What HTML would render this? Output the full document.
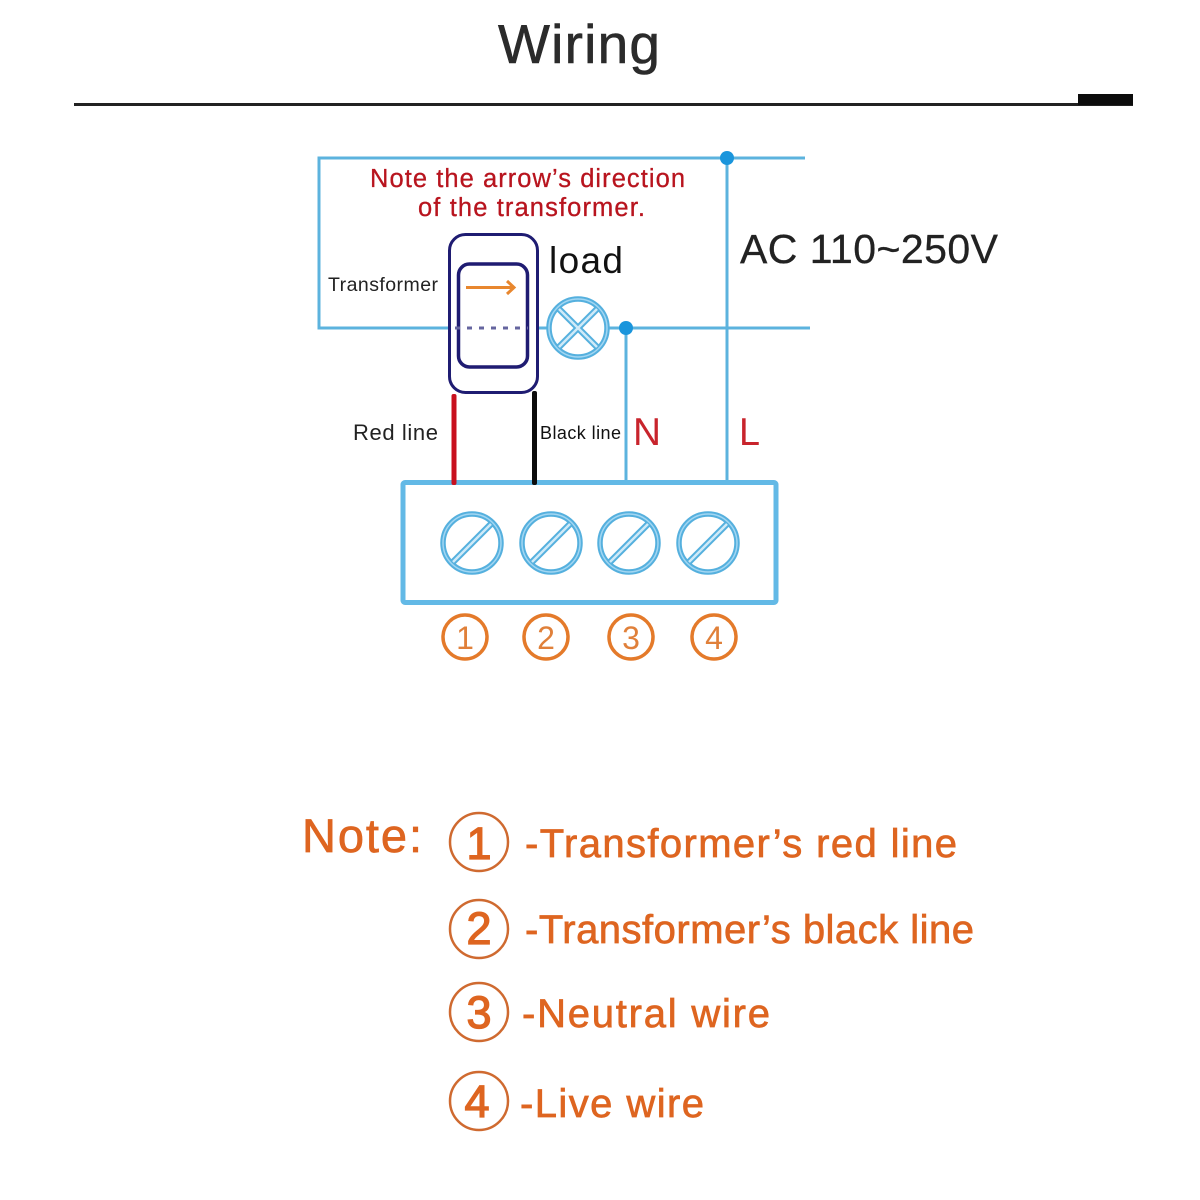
<!DOCTYPE html>
<html><head><meta charset="utf-8"><style>
html,body{margin:0;padding:0;background:#fff}
svg{display:block}
text{font-family:"Liberation Sans",sans-serif}
</style></head><body>
<svg width="1200" height="1200" viewBox="0 0 1200 1200" xmlns="http://www.w3.org/2000/svg">
<rect width="1200" height="1200" fill="#fff"/>
<text x="498" y="63" font-size="55" fill="#2b2b2b" stroke="#2b2b2b" stroke-width=".6" textLength="162" lengthAdjust="spacing">Wiring</text>
<rect x="74" y="103" width="1059" height="3" fill="#222"/>
<rect x="1078" y="94" width="55" height="11" fill="#0c0c0c"/>

<g fill="none" stroke="#5cb3de" stroke-width="3">
<path d="M805 158H319V328H448"/>
<path d="M727 158V482"/>
<path d="M538 328H548"/>
<path d="M608 328H810"/>
<path d="M626 328V482"/>
<rect x="403" y="482.5" width="373" height="120" rx="2" stroke="#63b9e6" stroke-width="5"/>
</g>
<circle cx="727" cy="158" r="7" fill="#1a95dc"/>
<circle cx="626" cy="328" r="7" fill="#1a95dc"/>

<g fill="none">
<circle cx="578" cy="328" r="29" stroke="#55b0de" stroke-width="5.5"/>
<circle cx="578" cy="328" r="29" stroke="#a2d6f2" stroke-width="1.5"/>
<path d="M559 309L597 347M597 309L559 347" stroke="#55b0de" stroke-width="6.5"/>
<path d="M559 309L597 347M597 309L559 347" stroke="#cfeaf8" stroke-width="2.5"/>
</g>

<rect x="449.5" y="234.5" width="88" height="158" rx="16" fill="none" stroke="#1f1c72" stroke-width="3"/>
<rect x="458.5" y="264" width="69" height="103" rx="11" fill="none" stroke="#1f1c72" stroke-width="3.5"/>
<path d="M455 328H528" stroke="#65659f" stroke-width="3" stroke-dasharray="5 7" fill="none"/>
<path d="M466 287.5H513" stroke="#e8872e" stroke-width="3" fill="none"/>
<path d="M507 281L514 287.5L507 294" stroke="#e8872e" stroke-width="3" fill="none"/>
<rect x="451.5" y="394" width="5" height="91" rx="2" fill="#c8101e"/>
<rect x="532" y="391" width="5" height="94" rx="2" fill="#0c0c0c"/>

<g fill="none">
<g>
<circle cx="472" cy="543" r="29" stroke="#55b0de" stroke-width="5.5"/><circle cx="472" cy="543" r="29" stroke="#a2d6f2" stroke-width="1.5"/>
<path d="M453 562L491 524" stroke="#55b0de" stroke-width="6.5"/><path d="M453 562L491 524" stroke="#cfeaf8" stroke-width="2.5"/>
</g>
<g transform="translate(79 0)">
<circle cx="472" cy="543" r="29" stroke="#55b0de" stroke-width="5.5"/><circle cx="472" cy="543" r="29" stroke="#a2d6f2" stroke-width="1.5"/>
<path d="M453 562L491 524" stroke="#55b0de" stroke-width="6.5"/><path d="M453 562L491 524" stroke="#cfeaf8" stroke-width="2.5"/>
</g>
<g transform="translate(157 0)">
<circle cx="472" cy="543" r="29" stroke="#55b0de" stroke-width="5.5"/><circle cx="472" cy="543" r="29" stroke="#a2d6f2" stroke-width="1.5"/>
<path d="M453 562L491 524" stroke="#55b0de" stroke-width="6.5"/><path d="M453 562L491 524" stroke="#cfeaf8" stroke-width="2.5"/>
</g>
<g transform="translate(236 0)">
<circle cx="472" cy="543" r="29" stroke="#55b0de" stroke-width="5.5"/><circle cx="472" cy="543" r="29" stroke="#a2d6f2" stroke-width="1.5"/>
<path d="M453 562L491 524" stroke="#55b0de" stroke-width="6.5"/><path d="M453 562L491 524" stroke="#cfeaf8" stroke-width="2.5"/>
</g>
</g>

<g fill="none" stroke="#e47a2a" stroke-width="3.5">
<circle cx="465" cy="637" r="22"/><circle cx="546" cy="637" r="22"/><circle cx="631" cy="637" r="22"/><circle cx="714" cy="637" r="22"/>
</g>
<g font-size="32" fill="#e0803a" text-anchor="middle">
<text x="465" y="649">1</text><text x="546" y="649">2</text><text x="631" y="649">3</text><text x="714" y="649">4</text>
</g>

<g font-size="25.5" fill="#b8141e" stroke="#b8141e" stroke-width=".3">
<text x="370" y="187" textLength="315" lengthAdjust="spacing">Note the arrow’s direction</text>
<text x="418" y="216" textLength="227" lengthAdjust="spacing">of the transformer.</text>
</g>
<text x="328" y="291" font-size="19.5" fill="#222" textLength="110" lengthAdjust="spacing">Transformer</text>
<text x="549" y="273" font-size="37" fill="#111" textLength="74" lengthAdjust="spacing">load</text>
<text x="740" y="263" font-size="41" fill="#222" stroke="#222" stroke-width=".3" textLength="258" lengthAdjust="spacing">AC 110~250V</text>
<text x="353" y="440" font-size="22" fill="#222" textLength="85" lengthAdjust="spacing">Red line</text>
<text x="540" y="439" font-size="18" fill="#111" textLength="81" lengthAdjust="spacing">Black line</text>
<text x="633" y="445" font-size="39" fill="#c8242c" textLength="28" lengthAdjust="spacingAndGlyphs">N</text>
<text x="739" y="445" font-size="39" fill="#c8242c" textLength="21" lengthAdjust="spacingAndGlyphs">L</text>

<g fill="#de6520" stroke="#de6520" stroke-width=".7">
<text x="302" y="852" font-size="47" textLength="120" lengthAdjust="spacing">Note:</text>
<text x="525" y="857" font-size="40" textLength="432" lengthAdjust="spacing">-Transformer’s red line</text>
<text x="525" y="943" font-size="40" textLength="449" lengthAdjust="spacing">-Transformer’s black line</text>
<text x="522" y="1027" font-size="40" textLength="248" lengthAdjust="spacing">-Neutral wire</text>
<text x="520" y="1117" font-size="40" textLength="184" lengthAdjust="spacing">-Live wire</text>
</g>
<g fill="none" stroke="#cf6a30" stroke-width="2.5">
<circle cx="479" cy="842" r="29"/><circle cx="479" cy="929" r="29"/><circle cx="479" cy="1012" r="29"/><circle cx="479" cy="1101" r="29"/>
</g>
<g font-size="45" fill="#de6520" stroke="#de6520" stroke-width="1.3" text-anchor="middle">
<text x="479" y="859">1</text><text x="479" y="944">2</text><text x="479" y="1028">3</text><text x="477" y="1117">4</text>
</g>
</svg>
</body></html>
